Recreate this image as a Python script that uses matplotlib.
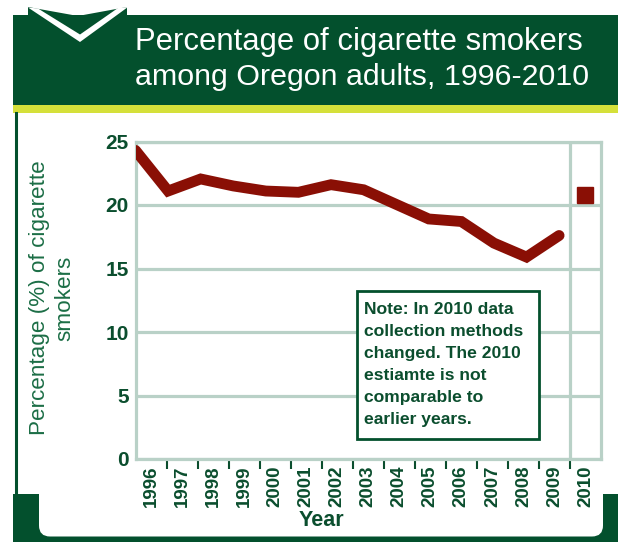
import numpy as np
import matplotlib
matplotlib.use("Agg")
import matplotlib.pyplot as plt
from matplotlib.patches import Rectangle, Polygon, FancyBboxPatch
from matplotlib.transforms import Affine2D
from matplotlib.lines import Line2D

plt.rcParams['font.family'] = ['Liberation Sans', 'DejaVu Sans']

# ---------------- data ----------------
years = ['1996', '1997', '1998', '1999', '2000', '2001', '2002', '2003',
         '2004', '2005', '2006', '2007', '2008', '2009', '2010']
smokers_pct = [24.3, 21.1, 22.05, 21.5, 21.1, 21.0, 21.6, 21.2,
               20.05, 18.9, 18.7, 17.0, 15.9, 17.6]   # 1996-2009
smokers_2010 = [20.8]
y_ticks = [0, 5, 10, 15, 20, 25]
title_lines = ['Percentage of cigarette smokers',
               'among Oregon adults, 1996-2010']
note_lines = ['Note: In 2010 data', 'collection methods',
              'changed. The 2010', 'estiamte is not',
              'comparable to', 'earlier years.']

# ---------------- style ----------------
W, H = 618, 542
DARK = '#03502d'
TICK = '#0b4e2e'
YLAB = '#1c6e46'
GRID = '#b9d1c7'
LINE = '#8a0f05'
YELLOW = '#d5e03a'

fig = plt.figure(figsize=(W / 100, H / 100), dpi=100)
fig.patch.set_facecolor('white')
# pixel transform with y measured from the top
pxT = Affine2D().scale(1, -1).translate(0, H)


def add(p):
    p.set_transform(pxT)
    fig.add_artist(p)
    return p


# header
add(Rectangle((12.7, 15), W - 12.7, 90, facecolor=DARK, edgecolor='none', zorder=-2))
add(Rectangle((12.7, 105), W - 12.7, 8, facecolor=YELLOW, edgecolor='none', zorder=-2))
add(Polygon([(28, 7), (78, 16), (127, 7), (127, 16), (28, 16)], closed=True,
            facecolor=DARK, edgecolor='none', zorder=-2))
add(Polygon([(28, 7.5), (80, 42), (128, 7), (118, 8), (80, 34.5), (38, 8.5)], closed=True,
            facecolor='white', edgecolor='none', zorder=-1.5))

# frame: left rule, bottom blocks with rounded white corners
add(Line2D([15.5, 15.5], [113, 495], color=DARK, lw=2.2, zorder=-2))
add(Rectangle((12.7, 493.5), W - 12.7, H - 493.5, facecolor=DARK, edgecolor='none', zorder=-2))
add(FancyBboxPatch((39, 470), 603 - 39, 536.5 - 470,
                   boxstyle='round,pad=0,rounding_size=11',
                   facecolor='white', edgecolor='none', zorder=-1.8))
add(Rectangle((39, 470), 603 - 39, 20, facecolor='white', edgecolor='none', zorder=-1.7))

# title
fig.text(135 / W, 1 - 50 / H, title_lines[0], color='white', fontsize=22.3,
         ha='left', va='baseline')
fig.text(135 / W, 1 - 85 / H, title_lines[1], color='white', fontsize=21.9,
         ha='left', va='baseline')

# ---------------- axes ----------------
ax = fig.add_axes([135.5 / W, 1 - 459 / H, (601 - 135.5) / W, (459 - 141.5) / H])
ax.set_facecolor('none')
ax.set_xlim(-0.5, len(years) - 0.5)
ax.set_ylim(0, 25)

for s in ax.spines.values():
    s.set_color(GRID)
    s.set_linewidth(2.3)

ax.set_yticks(y_ticks)
ax.set_yticklabels([str(v) for v in y_ticks])
ax.yaxis.grid(True, color=GRID, linewidth=2.3)
ax.set_axisbelow(True)
ax.axvline(len(years) - 1.5, color=GRID, linewidth=2.3, zorder=1)

ax.set_xticks(np.arange(len(years)))
ax.set_xticklabels(years, rotation=90, fontweight='bold', fontsize=13.5, color=TICK)
ax.set_xticks(np.arange(len(years) - 1) + 0.5, minor=True)
ax.tick_params(axis='x', which='major', length=0, pad=4.5)
ax.tick_params(axis='x', which='minor', length=7.5, width=1.5, color=TICK, direction='out')
ax.tick_params(axis='y', length=0, pad=5, labelsize=15, labelcolor=TICK)
for lab in ax.get_yticklabels():
    lab.set_fontweight('bold')

# line: 1996-2009 drawn from left edge with its own spacing
n = len(smokers_pct)
step = 1.05
x_line = -0.5 + np.arange(n) * step
ax.plot(x_line, smokers_pct, color=LINE, linewidth=7.8,
        solid_joinstyle='miter', solid_capstyle='round', zorder=3)
ax.plot([len(years) - 1], smokers_2010, marker='s', markersize=12,
        color=LINE, linestyle='none', zorder=3, clip_on=False)

# axis titles
fig.text(52 / W, 1 - 298 / H, 'Percentage (%) of cigarette\nsmokers', rotation=90,
         ha='center', va='center', multialignment='center', fontsize=16.2,
         color=YLAB, linespacing=1.25)
fig.text(321 / W, 1 - 521 / H, 'Year', ha='center', va='center', fontsize=15.5,
         fontweight='bold', color=TICK)

# note box
add(Rectangle((356.7, 291), 539.3 - 356.7, 439.3 - 291, facecolor='white',
              edgecolor=DARK, linewidth=2.0, zorder=2))
for i, t in enumerate(note_lines):
    fig.text(364 / W, 1 - (314 + 22 * i) / H, t, ha='left', va='baseline',
             fontsize=12.6, fontweight='bold', color=TICK, zorder=3)

fig.savefig('out.png', dpi=100, facecolor='white')
